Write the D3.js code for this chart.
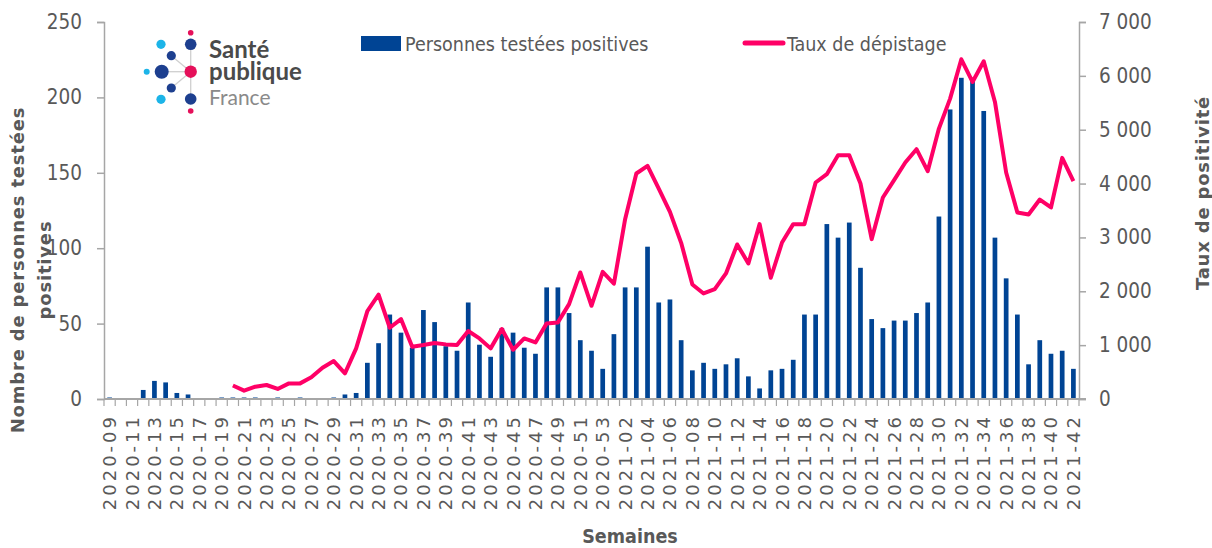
<!DOCTYPE html>
<html>
<head>
<meta charset="utf-8">
<script src="https://cdn.jsdelivr.net/npm/d3@7"></script>
<style>
  body { margin: 0; background: #fff; }
  #chart { width: 1212px; height: 548px; }
</style>
</head>
<body>
<div id="chart"></div>
<script>
// weeks (ISO), 2020-09 .. 2021-42
const weeks = [
  '2020-09','2020-10','2020-11','2020-12','2020-13','2020-14','2020-15','2020-16','2020-17','2020-18',
  '2020-19','2020-20','2020-21','2020-22','2020-23','2020-24','2020-25','2020-26','2020-27','2020-28',
  '2020-29','2020-30','2020-31','2020-32','2020-33','2020-34','2020-35','2020-36','2020-37','2020-38',
  '2020-39','2020-40','2020-41','2020-42','2020-43','2020-44','2020-45','2020-46','2020-47','2020-48',
  '2020-49','2020-50','2020-51','2020-52','2020-53','2021-01','2021-02','2021-03','2021-04','2021-05',
  '2021-06','2021-07','2021-08','2021-09','2021-10','2021-11','2021-12','2021-13','2021-14','2021-15',
  '2021-16','2021-17','2021-18','2021-19','2021-20','2021-21','2021-22','2021-23','2021-24','2021-25',
  '2021-26','2021-27','2021-28','2021-29','2021-30','2021-31','2021-32','2021-33','2021-34','2021-35',
  '2021-36','2021-37','2021-38','2021-39','2021-40','2021-41','2021-42'
]

// Personnes testées positives (left axis)
const positives = [
  1, 0, 0, 6, 12, 11, 4, 3, 0, 0,
  1, 1, 1, 1, 0, 1, 0, 1, 0, 0,
  1, 3, 4, 24, 37, 56, 44, 34, 59, 51,
  35, 32, 64, 36, 28, 47, 44, 34, 30, 74,
  74, 57, 39, 32, 20, 43, 74, 74, 101, 64,
  66, 39, 19, 24, 20, 23, 27, 15, 7, 19,
  20, 26, 56, 56, 116, 107, 117, 87, 53, 47,
  52, 52, 57, 64, 121, 192, 213, 211, 191, 107,
  80, 56, 23, 39, 30, 32, 20
]

// Taux de dépistage (right axis), starts at 2020-20
const screening = [
  null, null, null, null, null, null, null, null, null, null, null,
  250, 155, 229, 260, 186, 290, 290, 402, 581, 705,
  476, 940, 1633, 1936, 1323, 1484, 971, 1002, 1039, 1014,
  1002, 1262, 1125, 940, 1299, 915, 1125, 1051, 1404, 1422,
  1762, 2350, 1731, 2362, 2140, 3339, 4187, 4329, 3908, 3475,
  2900, 2127, 1960, 2040, 2331, 2869, 2517, 3247, 2251, 2906,
  3247, 3247, 4020, 4174, 4527, 4527, 4001, 2968, 3741, 4063,
  4391, 4638, 4230, 5021, 5578, 6308, 5887, 6270, 5516, 4205,
  3463, 3426, 3704, 3556, 4477, 4044
]

const leftTicks = [0, 50, 100, 150, 200, 250]
const rightTicks = [0, 1000, 2000, 3000, 4000, 5000, 6000, 7000]

const W = 1212, H = 548
const plot = { left: 104, right: 1079, top: 22, bottom: 399 }
const grey = '#595959'
const axisGrey = '#a6a6a6'
const barBlue = '#004494'
const pink = '#ff0066'
const narrow = '"Liberation Sans Narrow", "DejaVu Sans Condensed", sans-serif'

const svg = d3.select('#chart').append('svg').attr('width', W).attr('height', H)

const x = d3.scaleBand().domain(weeks).range([plot.left, plot.right]).paddingInner(0.58).paddingOuter(0.29)
const yL = d3.scaleLinear().domain([0, 250]).range([plot.bottom, plot.top])
const yR = d3.scaleLinear().domain([0, 7000]).range([plot.bottom, plot.top])
const cx = w => x(w) + x.bandwidth() / 2

const fr = d3.formatLocale({ decimal: ',', thousands: '\u00a0', grouping: [3], currency: ['', '€'] })
const fmt = fr.format(',d')

// bars
svg.append('g')
  .selectAll('rect')
  .data(weeks)
  .enter()
  .append('rect')
  .attr('x', w => x(w))
  .attr('width', x.bandwidth())
  .attr('y', (w, i) => yL(positives[i]))
  .attr('height', (w, i) => yL(0) - yL(positives[i]))
  .attr('fill', barBlue)

// y axes
const axL = svg.append('g')
  .attr('transform', `translate(${plot.left},0)`)
  .call(d3.axisLeft(yL).tickValues(leftTicks).tickSize(7).tickPadding(15).tickFormat(d3.format('d')))
const axR = svg.append('g')
  .attr('transform', `translate(${plot.right},0)`)
  .call(d3.axisRight(yR).tickValues(rightTicks).tickSize(7).tickPadding(13).tickFormat(fmt))
for (const ax of [axL, axR]) {
  ax.select('.domain').attr('stroke', axisGrey).attr('stroke-width', 1.5)
  ax.selectAll('.tick line').attr('stroke', axisGrey).attr('stroke-width', 1.5)
  ax.selectAll('.tick text')
    .attr('fill', grey)
    .attr('font-family', narrow)
    .attr('font-size', 20.5)
}

// x axis: baseline with a tick at each week boundary
const gx = svg.append('g')
gx.append('line')
  .attr('x1', plot.left).attr('x2', plot.right + 7)
  .attr('y1', plot.bottom).attr('y2', plot.bottom)
  .attr('stroke', axisGrey).attr('stroke-width', 2)
const bounds = weeks.map(w => cx(w) - x.step() / 2).concat([plot.right])
gx.selectAll('line.tk')
  .data(bounds)
  .enter()
  .append('line')
  .attr('class', 'tk')
  .attr('x1', d => d).attr('x2', d => d)
  .attr('y1', plot.bottom).attr('y2', plot.bottom + 7)
  .attr('stroke', axisGrey).attr('stroke-width', 1.2)
gx.selectAll('text')
  .data(weeks.filter((w, i) => i % 2 === 0))
  .enter()
  .append('text')
  .attr('transform', w => `translate(${cx(w)},${plot.bottom + 15}) rotate(-90)`)
  .attr('dy', '0.36em')
  .attr('text-anchor', 'end')
  .attr('font-family', '"DejaVu Sans", sans-serif')
  .attr('font-size', 18)
  .attr('letter-spacing', 3)
  .attr('fill', grey)
  .text(w => w)

// line
const line = d3.line()
  .defined(d => d.v !== null)
  .x(d => cx(d.w))
  .y(d => yR(d.v))
svg.append('path')
  .datum(weeks.map((w, i) => ({ w, v: screening[i] })))
  .attr('d', line)
  .attr('fill', 'none')
  .attr('stroke', pink)
  .attr('stroke-width', 4)
  .attr('stroke-linejoin', 'round')

// axis titles
const title = (txt, tx, ty) => svg.append('text')
  .attr('transform', `translate(${tx},${ty}) rotate(-90)`)
  .attr('text-anchor', 'middle')
  .attr('font-family', '"DejaVu Sans", sans-serif')
  .attr('font-weight', 'bold')
  .attr('font-size', 18)
  .attr('letter-spacing', 0.8)
  .attr('fill', grey)
  .text(txt)
title('Nombre de personnes testées', 24, 270)
title('positives', 51, 270)
title('Taux de positivité', 1209, 193)
svg.append('text')
  .attr('x', 630).attr('y', 543)
  .attr('text-anchor', 'middle')
  .attr('font-family', narrow)
  .attr('font-weight', 'bold')
  .attr('font-size', 19.5)
  .attr('fill', grey)
  .text('Semaines')

// legend
svg.append('rect').attr('x', 361).attr('y', 36).attr('width', 40).attr('height', 15).attr('fill', barBlue)
svg.append('text').attr('x', 405).attr('y', 51)
  .attr('font-family', narrow).attr('font-size', 19.5).attr('fill', grey)
  .text('Personnes testées positives')
svg.append('line').attr('x1', 745).attr('x2', 783).attr('y1', 43).attr('y2', 43)
  .attr('stroke', pink).attr('stroke-width', 5).attr('stroke-linecap', 'round')
svg.append('text').attr('x', 787).attr('y', 51)
  .attr('font-family', narrow).attr('font-size', 19.5).attr('fill', grey)
  .text('Taux de dépistage')

// logo (Santé publique France)
const logo = svg.append('g')
const dBlue = '#1d3f8f', lBlue = '#1cb4e8', lPink = '#e5105a'
const hub = [190.7, 71.7]
const spokes = [[190.7, 44.3], [190.7, 99], [171.3, 55.7], [161.7, 71.7], [171.3, 88]]
spokes.forEach(([px, py]) => logo.append('line')
  .attr('x1', hub[0]).attr('y1', hub[1]).attr('x2', px).attr('y2', py)
  .attr('stroke', '#cfcfcf').attr('stroke-width', 1.3))
const dots = [
  [190.7, 32.7, 2.8, lPink], [190.7, 44.3, 5.8, dBlue], [161, 44.3, 4.6, lBlue], [171.3, 55.7, 4.6, dBlue],
  [146.7, 71.7, 3, lBlue], [161.7, 71.7, 7, dBlue], [190.7, 71.7, 6.2, lPink], [171.3, 88, 4.6, dBlue],
  [161, 99.3, 4.6, lBlue], [190.7, 99, 5.8, dBlue], [190.7, 111, 2.8, lPink]
]
dots.forEach(([px, py, r, c]) => logo.append('circle').attr('cx', px).attr('cy', py).attr('r', r).attr('fill', c))
const logoText = (t, ty, weight, size, col) => logo.append('text')
  .attr('x', 209).attr('y', ty)
  .attr('font-family', 'Lato, sans-serif')
  .attr('font-weight', weight)
  .attr('font-size', size)
  .attr('fill', col)
  .text(t)
logoText('Santé', 58, 'bold', 24, '#4a4a4a')
logoText('publique', 80, 'bold', 24, '#4a4a4a')
logoText('France', 105, 'normal', 21, '#8a8a8a')
</script>
</body>
</html>
